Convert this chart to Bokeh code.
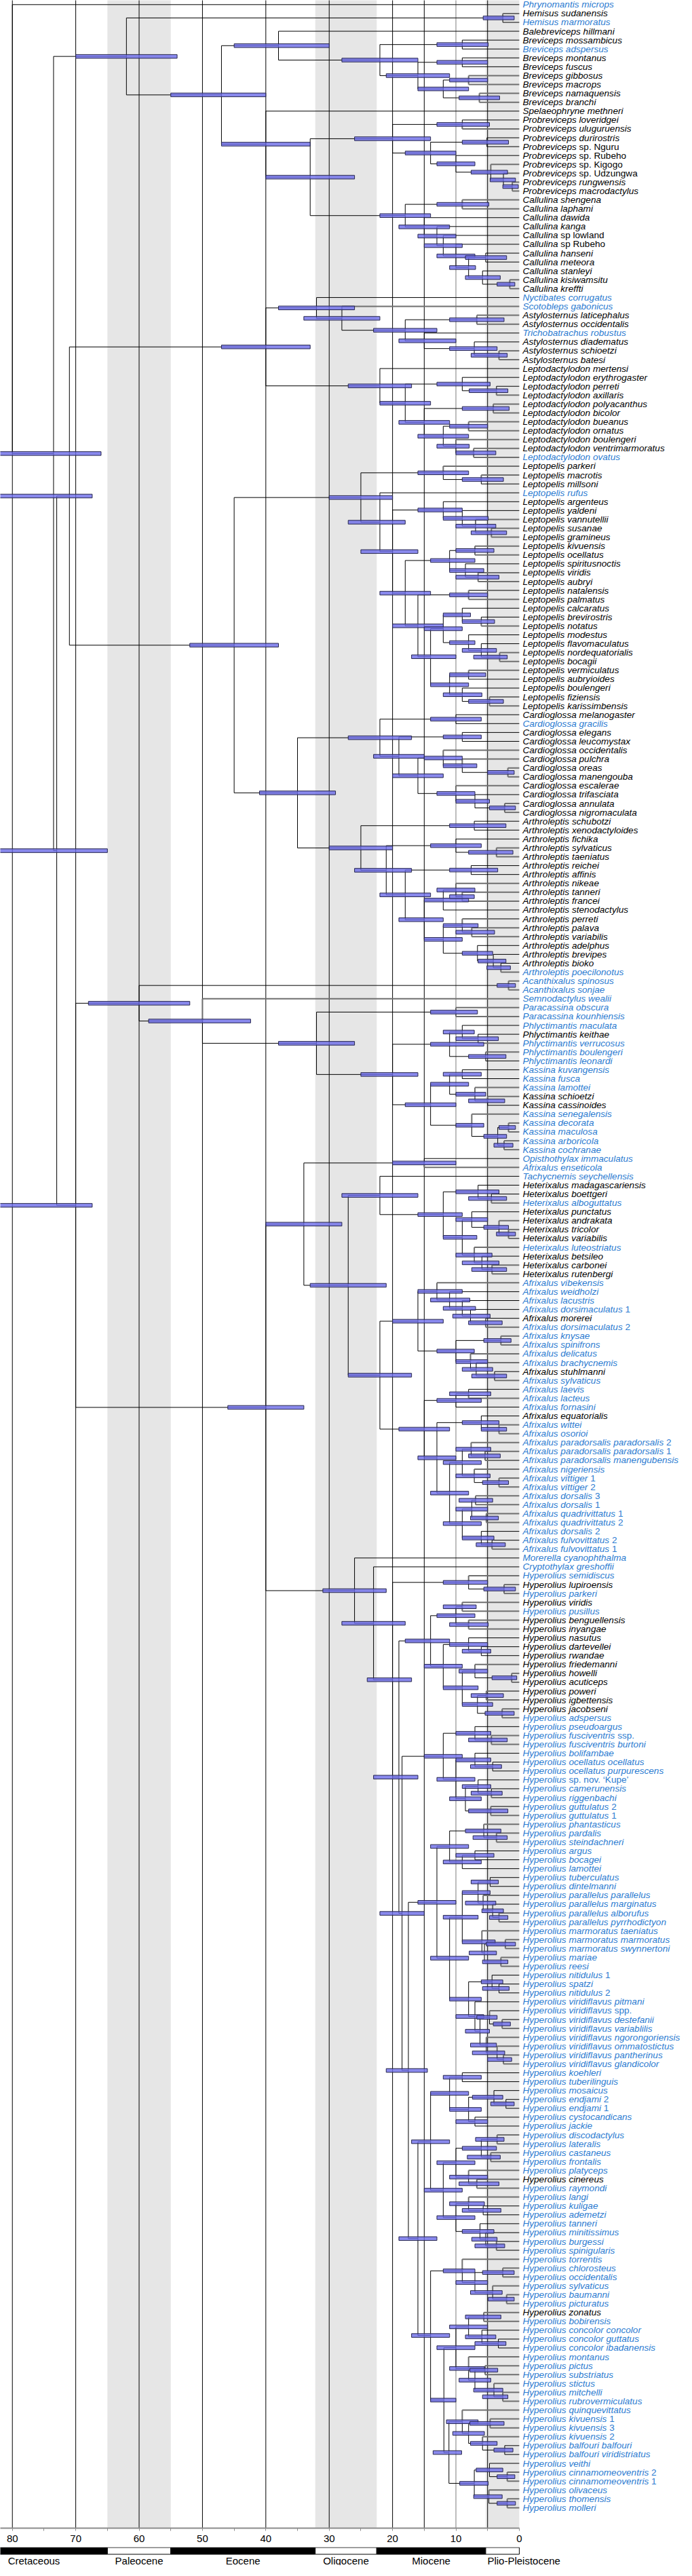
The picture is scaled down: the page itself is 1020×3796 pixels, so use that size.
from bokeh.plotting import figure
from bokeh.layouts import column
from bokeh.models import Range1d, LinearAxis, FixedTicker, ColumnDataSource
from bokeh.core.properties import value
from bokeh.embed import file_html
from bokeh.resources import INLINE

# ---------------- tip taxa (top to bottom) ----------------
taxa = [
    "Phrynomantis microps", "Hemisus sudanensis", "Hemisus marmoratus", "Balebreviceps hillmani",
    "Breviceps mossambicus", "Breviceps adspersus", "Breviceps montanus", "Breviceps fuscus",
    "Breviceps gibbosus", "Breviceps macrops", "Breviceps namaquensis", "Breviceps branchi",
    "Spelaeophryne methneri", "Probreviceps loveridgei", "Probreviceps uluguruensis",
    "Probreviceps durirostris", "Probreviceps sp. Nguru", "Probreviceps sp. Rubeho",
    "Probreviceps sp. Kigogo", "Probreviceps sp. Udzungwa", "Probreviceps rungwensis",
    "Probreviceps macrodactylus", "Callulina shengena", "Callulina laphami", "Callulina dawida",
    "Callulina kanga", "Callulina sp lowland", "Callulina sp Rubeho", "Callulina hanseni",
    "Callulina meteora", "Callulina stanleyi", "Callulina kisiwamsitu", "Callulina kreffti",
    "Nyctibates corrugatus", "Scotobleps gabonicus", "Astylosternus laticephalus",
    "Astylosternus occidentalis", "Trichobatrachus robustus", "Astylosternus diadematus",
    "Astylosternus schioetzi", "Astylosternus batesi", "Leptodactylodon mertensi",
    "Leptodactylodon erythrogaster", "Leptodactylodon perreti", "Leptodactylodon axillaris",
    "Leptodactylodon polyacanthus", "Leptodactylodon bicolor", "Leptodactylodon bueanus",
    "Leptodactylodon ornatus", "Leptodactylodon boulengeri", "Leptodactylodon ventrimarmoratus",
    "Leptodactylodon ovatus", "Leptopelis parkeri", "Leptopelis macrotis", "Leptopelis millsoni",
    "Leptopelis rufus", "Leptopelis argenteus", "Leptopelis yaldeni", "Leptopelis vannutellii",
    "Leptopelis susanae", "Leptopelis gramineus", "Leptopelis kivuensis", "Leptopelis ocellatus",
    "Leptopelis spiritusnoctis", "Leptopelis viridis", "Leptopelis aubryi", "Leptopelis natalensis",
    "Leptopelis palmatus", "Leptopelis calcaratus", "Leptopelis brevirostris", "Leptopelis notatus",
    "Leptopelis modestus", "Leptopelis flavomaculatus", "Leptopelis nordequatorialis",
    "Leptopelis bocagii", "Leptopelis vermiculatus", "Leptopelis aubryioides", "Leptopelis boulengeri",
    "Leptopelis fiziensis", "Leptopelis karissimbensis", "Cardioglossa melanogaster",
    "Cardioglossa gracilis", "Cardioglossa elegans", "Cardioglossa leucomystax",
    "Cardioglossa occidentalis", "Cardioglossa pulchra", "Cardioglossa oreas",
    "Cardioglossa manengouba", "Cardioglossa escalerae", "Cardioglossa trifasciata",
    "Cardioglossa annulata", "Cardioglossa nigromaculata", "Arthroleptis schubotzi",
    "Arthroleptis xenodactyloides", "Arthroleptis fichika", "Arthroleptis sylvaticus",
    "Arthroleptis taeniatus", "Arthroleptis reichei", "Arthroleptis affinis", "Arthroleptis nikeae",
    "Arthroleptis tanneri", "Arthroleptis francei", "Arthroleptis stenodactylus",
    "Arthroleptis perreti", "Arthroleptis palava", "Arthroleptis variabilis", "Arthroleptis adelphus",
    "Arthroleptis brevipes", "Arthroleptis bioko", "Arthroleptis poecilonotus",
    "Acanthixalus spinosus", "Acanthixalus sonjae", "Semnodactylus wealii", "Paracassina obscura",
    "Paracassina kounhiensis", "Phlyctimantis maculata", "Phlyctimantis keithae",
    "Phlyctimantis verrucosus", "Phlyctimantis boulengeri", "Phlyctimantis leonardi",
    "Kassina kuvangensis", "Kassina fusca", "Kassina lamottei", "Kassina schioetzi",
    "Kassina cassinoides", "Kassina senegalensis", "Kassina decorata", "Kassina maculosa",
    "Kassina arboricola", "Kassina cochranae", "Opisthothylax immaculatus", "Afrixalus enseticola",
    "Tachycnemis seychellensis", "Heterixalus madagascariensis", "Heterixalus boettgeri",
    "Heterixalus alboguttatus", "Heterixalus punctatus", "Heterixalus andrakata",
    "Heterixalus tricolor", "Heterixalus variabilis", "Heterixalus luteostriatus",
    "Heterixalus betsileo", "Heterixalus carbonei", "Heterixalus rutenbergi", "Afrixalus vibekensis",
    "Afrixalus weidholzi", "Afrixalus lacustris", "Afrixalus dorsimaculatus 1", "Afrixalus morerei",
    "Afrixalus dorsimaculatus 2", "Afrixalus knysae", "Afrixalus spinifrons", "Afrixalus delicatus",
    "Afrixalus brachycnemis", "Afrixalus stuhlmanni", "Afrixalus sylvaticus", "Afrixalus laevis",
    "Afrixalus lacteus", "Afrixalus fornasini", "Afrixalus equatorialis", "Afrixalus wittei",
    "Afrixalus osorioi", "Afrixalus paradorsalis paradorsalis 2",
    "Afrixalus paradorsalis paradorsalis 1", "Afrixalus paradorsalis manengubensis",
    "Afrixalus nigeriensis", "Afrixalus vittiger 1", "Afrixalus vittiger 2", "Afrixalus dorsalis 3",
    "Afrixalus dorsalis 1", "Afrixalus quadrivittatus 1", "Afrixalus quadrivittatus 2",
    "Afrixalus dorsalis 2", "Afrixalus fulvovittatus 2", "Afrixalus fulvovittatus 1",
    "Morerella cyanophthalma", "Cryptothylax greshoffii", "Hyperolius semidiscus",
    "Hyperolius lupiroensis", "Hyperolius parkeri", "Hyperolius viridis", "Hyperolius pusillus",
    "Hyperolius benguellensis", "Hyperolius inyangae", "Hyperolius nasutus", "Hyperolius dartevellei",
    "Hyperolius rwandae", "Hyperolius friedemanni", "Hyperolius howelli", "Hyperolius acuticeps",
    "Hyperolius poweri", "Hyperolius igbettensis", "Hyperolius jacobseni", "Hyperolius adspersus",
    "Hyperolius pseudoargus", "Hyperolius fusciventris ssp.", "Hyperolius fusciventris burtoni",
    "Hyperolius bolifambae", "Hyperolius ocellatus ocellatus", "Hyperolius ocellatus purpurescens",
    "Hyperolius sp. nov. \u2018Kupe\u2019", "Hyperolius camerunensis", "Hyperolius riggenbachi",
    "Hyperolius guttulatus 2", "Hyperolius guttulatus 1", "Hyperolius phantasticus",
    "Hyperolius pardalis", "Hyperolius steindachneri", "Hyperolius argus", "Hyperolius bocagei",
    "Hyperolius lamottei", "Hyperolius tuberculatus", "Hyperolius dintelmanni",
    "Hyperolius parallelus parallelus", "Hyperolius parallelus marginatus",
    "Hyperolius parallelus alborufus", "Hyperolius parallelus pyrrhodictyon",
    "Hyperolius marmoratus taeniatus", "Hyperolius marmoratus marmoratus",
    "Hyperolius marmoratus swynnertoni", "Hyperolius mariae", "Hyperolius reesi",
    "Hyperolius nitidulus 1", "Hyperolius spatzi", "Hyperolius nitidulus 2",
    "Hyperolius viridiflavus pitmani", "Hyperolius viridiflavus spp.",
    "Hyperolius viridiflavus destefanii", "Hyperolius viridiflavus variablilis",
    "Hyperolius viridiflavus ngorongoriensis", "Hyperolius viridiflavus ommatostictus",
    "Hyperolius viridiflavus pantherinus", "Hyperolius viridiflavus glandicolor",
    "Hyperolius koehleri", "Hyperolius tuberilinguis", "Hyperolius mosaicus", "Hyperolius endjami 2",
    "Hyperolius endjami 1", "Hyperolius cystocandicans", "Hyperolius jackie",
    "Hyperolius discodactylus", "Hyperolius lateralis", "Hyperolius castaneus", "Hyperolius frontalis",
    "Hyperolius platyceps", "Hyperolius cinereus", "Hyperolius raymondi", "Hyperolius langi",
    "Hyperolius kuligae", "Hyperolius ademetzi", "Hyperolius tanneri", "Hyperolius minitissimus",
    "Hyperolius burgessi", "Hyperolius spinigularis", "Hyperolius torrentis", "Hyperolius chlorosteus",
    "Hyperolius occidentalis", "Hyperolius sylvaticus", "Hyperolius baumanni", "Hyperolius picturatus",
    "Hyperolius zonatus", "Hyperolius bobirensis", "Hyperolius concolor concolor",
    "Hyperolius concolor guttatus", "Hyperolius concolor ibadanensis", "Hyperolius montanus",
    "Hyperolius pictus", "Hyperolius substriatus", "Hyperolius stictus", "Hyperolius mitchelli",
    "Hyperolius rubrovermiculatus", "Hyperolius quinquevittatus", "Hyperolius kivuensis 1",
    "Hyperolius kivuensis 3", "Hyperolius kivuensis 2", "Hyperolius balfouri balfouri",
    "Hyperolius balfouri viridistriatus", "Hyperolius veithi", "Hyperolius cinnamomeoventris 2",
    "Hyperolius cinnamomeoventris 1", "Hyperolius olivaceus", "Hyperolius thomensis",
    "Hyperolius molleri",
]

# label colour class per tip (B = blue label, k = black label), 10 per chunk
label_class = "".join([
    "BkBkkBkkkk", "kkkkkkkkkk", "kkkkkkkkkk", "kkkBBkkBkk", "kkkkkkkkkk",
    "kBkkkBkkkk", "kkkkkkkkkk", "kkkkkkkkkk", "kBkkkkkkkk", "kkkkkkkkkk",
    "kkkkkkkkkB", "BBBBBBkBBB", "BBBkkBBBBB", "BBBkkBkkkk", "BkkkBBBBkB",
    "BBBBkBBBBk", "BBBBBBBBBB", "BBBBBBBBkB", "kBkkkkkkkk", "kkkBBBBBBB",
    "BBBBBBBBBB", "BBBBBBBBBB", "BBBBBBBBBB", "BBBBBBBBBB", "BBBBBkBBBB",
    "BBBBBBBBBB", "kBBBBBBBBB", "BBBBBBBBBB", "BBB",
])

# terminal branch class per tip (G = grey branch, k = black branch)
branch_class = "".join([
    "kGkkkkkkGG", "GGkkGkkkGG", "GGGGkkkkkk", "kGGkGGGkkG", "GkkkGGGGGG",
    "GGGGkkkkGG", "GGGkGGGGkk", "GkkGGGkkGG", "kkkkGGGGGk", "GGkkkGGkkG",
    "GGkGGGkkkG", "GGGGGkkGGk", "kkGGkGGGGG", "kGkkkGkGGG", "GkGGGkkkkG",
    "GGGGkGkGkk", "GGGGGGGGGG", "GGkkGkkGGG", "GGGGkkkGGG", "GGGGkGGkkk",
    "kkGGGGGGkk", "kkkGGGGGGG", "GGkkkkGGGG", "GGGkkkkkkk", "GGGGGGGGkk",
    "kGGGGGGGGG", "GGkkkGGGGG", "GGGGGkkkGG", "GGG",
])

# ---------------- clades: (first tip, last tip, age Ma, 95% HPD old, 95% HPD young) ----------------
clades_top = [
    (0, 282, 80.0, None, None),
    (1, 282, 73.5, 82.8, 66.0),
    (1, 32, 62.0, 70.0, 54.0),
    (1, 2, 2.6, 5.7, 0.8),
]
clades_brevicipitidae = [
    (3, 32, 47.0, 55.0, 40.0), (3, 11, 38.0, 45.0, 30.0), (4, 11, 22.0, 28.0, 16.0),
    (4, 5, 9.0, 13.0, 4.9), (6, 11, 16.0, 21.0, 11.0), (6, 7, 9.0, 13.0, 5.0),
    (8, 11, 12.0, 16.0, 8.0), (8, 9, 8.0, 11.0, 5.0), (10, 11, 6.3, 9.5, 3.1),
    (12, 32, 40.0, 47.0, 33.0), (13, 32, 33.0, 40.0, 26.0), (13, 21, 20.0, 26.0, 14.0),
    (13, 14, 9.0, 13.0, 4.7), (15, 21, 14.0, 18.0, 10.0), (15, 16, 5.1, 9.0, 1.7),
    (17, 21, 10.0, 13.0, 7.0), (18, 21, 4.5, 7.6, 1.85), (19, 21, 2.5, 4.6, 0.6),
    (20, 21, 1.1, 2.6, 0.15), (22, 32, 18.0, 22.0, 14.0), (22, 23, 9.0, 13.0, 4.8),
    (24, 32, 15.0, 19.0, 11.0), (25, 32, 13.0, 16.0, 10.0), (26, 32, 12.0, 15.0, 9.0),
    (27, 32, 10.0, 13.0, 7.0), (28, 32, 8.0, 11.0, 6.9), (28, 29, 5.3, 8.5, 2.0),
    (30, 32, 5.8, 8.5, 3.0), (31, 32, 1.5, 3.5, 0.7),
]
clades_arthroleptidae = [
    (33, 282, 73.0, 82.0, 65.0), (33, 109, 71.0, 82.8, 67.4), (33, 51, 40.0, 47.0, 33.0),
    (33, 40, 32.0, 38.0, 26.0), (34, 40, 28.0, 34.0, 22.0), (35, 40, 18.0, 23.0, 13.0),
    (35, 36, 6.7, 11.0, 2.4), (37, 40, 15.0, 19.0, 10.0), (38, 40, 7.1, 11.0, 3.5),
    (39, 40, 3.2, 7.6, 1.9), (41, 51, 22.0, 27.0, 17.0), (42, 51, 18.0, 22.0, 14.0),
    (42, 44, 9.0, 13.0, 4.6), (43, 44, 3.6, 7.9, 1.8), (45, 51, 15.0, 19.0, 11.0),
    (45, 46, 4.1, 9.0, 1.6), (47, 51, 12.0, 16.0, 8.0), (47, 48, 8.0, 11.0, 5.0),
    (49, 51, 10.0, 13.0, 7.9), (50, 51, 7.2, 10.0, 3.7),
    (52, 109, 45.0, 52.0, 38.0), (52, 79, 25.0, 30.0, 20.0), (52, 54, 12.0, 16.0, 8.0),
    (53, 54, 6.0, 9.0, 2.5), (55, 79, 22.0, 27.0, 18.0), (56, 79, 20.0, 25.0, 16.0),
    (56, 60, 12.0, 16.0, 9.0), (57, 60, 9.0, 12.0, 4.9), (58, 60, 6.9, 10.0, 3.7),
    (59, 60, 4.4, 7.6, 2.0), (61, 79, 18.0, 22.0, 14.0), (61, 65, 11.0, 14.0, 7.0),
    (61, 62, 7.0, 10.0, 4.0), (63, 65, 8.5, 11.0, 5.6), (64, 65, 6.5, 10.0, 3.2),
    (66, 79, 16.0, 20.0, 12.0), (66, 67, 8.0, 11.0, 5.0), (68, 79, 14.0, 17.0, 10.0),
    (68, 74, 12.0, 15.0, 9.0), (68, 70, 9.0, 12.0, 7.7), (69, 70, 6.0, 9.0, 3.9),
    (71, 74, 8.0, 11.0, 7.0), (72, 74, 6.0, 9.0, 3.6), (73, 74, 3.1, 7.2, 1.9),
    (75, 79, 11.0, 14.0, 8.0), (75, 76, 8.0, 11.0, 5.3), (77, 79, 9.0, 12.0, 5.9),
    (78, 79, 4.7, 8.0, 2.5),
    (80, 109, 35.0, 41.0, 29.0), (80, 91, 22.0, 27.0, 17.0), (80, 81, 10.0, 14.0, 6.0),
    (82, 91, 19.0, 23.0, 15.0), (82, 83, 9.0, 12.0, 6.0), (84, 91, 16.0, 20.0, 12.0),
    (84, 87, 12.0, 15.0, 9.0), (85, 87, 9.0, 12.0, 6.7), (86, 87, 1.8, 5.0, 0.8),
    (88, 91, 10.0, 13.0, 7.0), (89, 91, 7.0, 10.0, 4.7), (90, 91, 2.3, 4.7, 0.6),
    (92, 109, 25.0, 30.0, 20.0), (92, 93, 7.1, 11.0, 2.1), (94, 109, 21.0, 26.0, 17.0),
    (94, 96, 10.0, 14.0, 6.0), (95, 96, 3.6, 8.0, 1.0), (97, 109, 18.0, 22.0, 14.0),
    (97, 98, 7.6, 11.0, 3.4), (99, 109, 15.0, 19.0, 12.0), (99, 102, 12.0, 15.0, 8.0),
    (99, 101, 10.0, 13.0, 7.0), (100, 101, 9.0, 11.0, 7.1), (103, 109, 12.0, 15.0, 9.0),
    (103, 105, 9.0, 12.0, 6.5), (104, 105, 7.5, 10.0, 3.9), (106, 109, 6.6, 9.0, 4.2),
    (107, 109, 4.1, 6.5, 2.1), (108, 109, 2.9, 5.1, 1.4),
]
clades_kassininae = [
    (110, 282, 70.0, 82.3, 67.4), (110, 129, 60.0, 68.0, 52.0), (110, 111, 1.7, 3.5, 0.6),
    (112, 129, 50.0, 58.5, 42.4), (113, 129, 32.0, 38.0, 26.0), (113, 114, 10.0, 14.0, 6.6),
    (115, 129, 20.0, 25.0, 16.0), (115, 119, 11.0, 14.0, 5.6), (115, 117, 9.0, 12.0, 7.1),
    (116, 117, 6.5, 10.0, 3.3), (118, 119, 5.3, 8.0, 2.1), (120, 129, 14.0, 18.0, 10.0),
    (120, 124, 11.0, 14.0, 8.0), (120, 121, 9.0, 12.0, 6.0), (122, 124, 7.0, 10.0, 5.3),
    (123, 124, 5.0, 8.0, 2.3), (125, 129, 7.5, 10.0, 5.6), (126, 129, 3.4, 5.6, 2.0),
    (126, 127, 1.7, 3.2, 0.6), (128, 129, 2.4, 4.0, 1.0),
]
clades_hyperoliinae = [
    (130, 282, 40.0, 46.0, 34.0), (130, 174, 34.0, 40.0, 28.0), (130, 131, 15.0, 20.0, 10.0),
    (132, 174, 27.0, 33.0, 21.0), (132, 143, 22.0, 28.0, 16.0), (133, 143, 12.0, 16.0, 9.0),
    (133, 135, 6.5, 10.0, 3.2), (134, 135, 4.4, 8.0, 2.0), (136, 143, 9.0, 12.0, 6.7),
    (136, 139, 7.5, 10.0, 5.0), (137, 139, 3.2, 5.6, 1.7), (138, 139, 1.7, 3.6, 0.6),
    (140, 143, 7.1, 10.0, 4.3), (141, 143, 5.9, 9.0, 3.2), (142, 143, 4.3, 7.5, 2.0),
    (144, 174, 22.0, 27.0, 17.0), (144, 155, 16.0, 20.0, 12.0), (144, 149, 13.0, 16.0, 9.0),
    (145, 149, 11.0, 14.0, 7.8), (146, 149, 9.0, 12.0, 6.9), (147, 149, 7.7, 10.5, 4.6),
    (148, 149, 5.3, 8.0, 2.7), (150, 155, 10.0, 13.0, 7.1), (150, 151, 2.9, 5.6, 1.3),
    (152, 155, 7.7, 10.0, 5.0), (153, 155, 6.8, 9.0, 4.2), (154, 155, 3.9, 7.5, 2.0),
    (156, 174, 15.0, 19.0, 11.0), (156, 158, 10.0, 13.0, 6.0), (156, 157, 8.0, 11.0, 4.5),
    (159, 174, 13.0, 16.0, 10.0), (159, 161, 6.0, 9.0, 3.2), (160, 161, 3.2, 6.0, 2.0),
    (162, 174, 11.0, 14.0, 8.0), (162, 167, 9.0, 12.0, 6.0), (162, 164, 7.6, 10.0, 4.5),
    (163, 164, 5.4, 8.0, 3.0), (165, 167, 7.1, 10.0, 4.6), (166, 167, 3.2, 5.8, 1.7),
    (168, 174, 9.0, 12.0, 6.0), (168, 171, 7.5, 10.0, 5.0), (168, 169, 6.9, 9.5, 4.2),
    (170, 171, 5.2, 7.7, 3.3), (172, 174, 6.0, 9.0, 4.0), (173, 174, 4.3, 6.8, 2.2),
    (175, 282, 26.0, 31.0, 21.0), (176, 282, 23.0, 28.0, 18.0),
]
clades_hyperolius = [
    (177, 282, 20.0, 24.0, 17.0), (177, 179, 8.0, 12.0, 5.0), (178, 179, 2.4, 5.6, 0.6),
    (180, 282, 19.0, 23.0, 16.0), (180, 193, 14.0, 18.0, 11.0), (180, 183, 10.0, 13.0, 7.0),
    (180, 181, 9.0, 12.0, 6.8), (182, 183, 8.0, 11.0, 4.9), (184, 193, 12.0, 15.0, 9.0),
    (184, 186, 8.0, 11.0, 5.0), (185, 186, 6.0, 9.0, 4.5), (187, 193, 9.0, 12.0, 6.5),
    (187, 189, 7.0, 9.5, 5.0), (188, 189, 1.2, 4.3, 0.4), (190, 193, 6.6, 9.0, 4.2),
    (190, 191, 5.2, 7.6, 2.5), (192, 193, 2.7, 5.4, 0.8),
    (194, 282, 18.5, 22.0, 15.0), (194, 204, 12.0, 15.0, 9.0), (194, 196, 7.0, 10.0, 4.5),
    (195, 196, 4.4, 8.0, 1.9), (197, 204, 10.0, 13.0, 7.0), (197, 199, 7.0, 10.0, 4.5),
    (198, 199, 4.2, 7.7, 2.8), (200, 204, 8.5, 11.0, 6.0), (200, 202, 6.5, 9.0, 4.5),
    (201, 202, 4.4, 7.6, 2.7), (203, 204, 4.5, 8.0, 1.8),
    (205, 282, 17.5, 21.0, 14.5), (205, 232, 13.0, 16.0, 10.0), (205, 210, 11.0, 14.0, 8.0),
    (205, 207, 5.6, 8.5, 2.9), (206, 207, 3.6, 7.3, 1.9), (208, 210, 9.0, 12.0, 6.0),
    (208, 209, 7.0, 10.0, 4.0), (211, 232, 11.0, 14.0, 8.0), (211, 221, 9.0, 12.0, 6.5),
    (211, 216, 6.5, 9.0, 4.6), (211, 212, 4.6, 7.6, 3.3), (213, 216, 5.7, 8.5, 3.7),
    (214, 216, 4.2, 5.9, 2.5), (215, 216, 3.2, 4.7, 1.8), (217, 221, 5.9, 9.0, 3.8),
    (218, 221, 5.5, 7.9, 3.6), (218, 219, 2.2, 5.2, 0.6), (220, 221, 2.9, 5.8, 1.8),
    (222, 232, 8.0, 11.0, 6.0), (222, 224, 4.3, 6.0, 2.6), (223, 224, 3.2, 5.8, 1.6),
    (225, 232, 7.0, 10.0, 5.6), (226, 232, 6.2, 8.5, 4.7), (226, 228, 4.7, 6.7, 3.5),
    (227, 228, 2.7, 4.1, 1.4), (229, 232, 5.2, 7.7, 3.6), (230, 232, 3.5, 7.4, 2.3),
    (231, 232, 2.5, 5.0, 1.2),
    (233, 282, 16.0, 19.0, 13.0), (233, 253, 14.0, 17.0, 11.0), (233, 239, 11.0, 14.0, 8.0),
    (233, 234, 9.0, 12.0, 6.0), (235, 239, 8.0, 11.0, 6.0), (235, 237, 4.0, 7.4, 2.6),
    (236, 237, 2.1, 4.5, 0.8), (238, 239, 7.0, 10.0, 5.0), (240, 253, 12.0, 15.0, 9.0),
    (240, 246, 10.0, 13.0, 7.0), (240, 243, 6.0, 9.0, 3.6), (240, 241, 3.5, 6.9, 2.4),
    (242, 243, 4.5, 8.2, 3.0), (244, 246, 8.0, 11.0, 5.0), (245, 246, 6.7, 9.5, 3.2),
    (247, 253, 10.0, 13.0, 7.0), (247, 249, 8.0, 11.0, 5.5), (248, 249, 5.7, 9.0, 2.9),
    (250, 253, 6.2, 9.0, 4.0), (251, 253, 5.3, 7.5, 3.5), (252, 253, 3.6, 7.0, 2.3),
    (254, 282, 14.0, 17.0, 11.0), (254, 259, 9.0, 12.0, 7.0), (255, 259, 7.0, 10.0, 5.0),
    (255, 256, 2.6, 5.8, 0.8), (257, 259, 4.2, 7.7, 2.7), (258, 259, 2.0, 4.9, 0.8),
    (260, 282, 11.9, 14.0, 10.0), (260, 270, 10.0, 13.0, 7.0), (260, 264, 8.0, 11.0, 5.0),
    (260, 261, 5.6, 8.5, 2.9), (262, 264, 5.9, 8.5, 3.7), (263, 264, 3.3, 7.0, 2.1),
    (265, 270, 8.0, 11.0, 5.5), (266, 270, 7.0, 9.5, 4.5), (266, 267, 5.4, 7.8, 3.4),
    (268, 270, 4.0, 7.2, 2.6), (269, 270, 2.6, 5.8, 1.8), (271, 282, 11.1, 13.6, 9.1),
    (271, 276, 9.0, 11.5, 6.5), (272, 276, 8.0, 10.5, 5.5), (272, 273, 4.6, 7.8, 2.4),
    (274, 276, 5.8, 7.7, 3.5), (275, 276, 2.3, 4.0, 1.0), (277, 282, 7.1, 9.4, 4.9),
    (277, 279, 4.7, 6.8, 2.6), (278, 279, 1.9, 3.5, 0.7), (280, 282, 4.8, 7.2, 2.7),
    (281, 282, 1.9, 3.5, 0.6),
]

# ---------------- time scale ----------------
tick_ages = [0, 10, 20, 30, 40, 50, 60, 70, 80]
minor_tick_ages = [5, 15, 25, 35, 45, 55, 65, 75]
grid_ages = [80, 70, 60, 50, 40, 30, 20, 15, 10, 5]
epoch_names = ["Cretaceous", "Paleocene", "Eocene", "Oligocene", "Miocene", "Plio-Pleistocene"]
epoch_old = [88.2, 65.0, 55.0, 32.2, 22.5, 5.3]
epoch_young = [65.0, 55.0, 32.2, 22.5, 5.3, 0.0]
shaded_epochs = ["Paleocene", "Oligocene", "Plio-Pleistocene"]

# ---------------- layout constants ----------------
AGE_LEFT, AGE_RIGHT = 81.9, -25.6
ROW_TOP, ROW_BOTTOM = -0.4817, 284.30
FRAME_H = 3725
AXIS_H = 28
FONT = "Liberation Sans"
BLUE = "#2b7bd1"
GREY = "#6f6f6f"
FS = 13.6

# Helvetica/Arial advance widths (per 1000 em) for placing upright suffixes
_w = {' ': 278}
for ch, wv in zip("abcdefghijklmnopqrstuvwxyz",
                  [556, 556, 500, 556, 556, 278, 556, 556, 222, 222, 500, 222, 833, 556, 556, 556,
                   556, 333, 500, 278, 556, 500, 722, 500, 500, 500]):
    _w[ch] = wv
for ch, wv in zip("ABCDEFGHIJKLMNOPQRSTUVWXYZ",
                  [667, 667, 722, 722, 667, 611, 778, 722, 278, 500, 667, 556, 833, 722, 778, 667,
                   778, 722, 667, 611, 722, 667, 944, 667, 667, 611]):
    _w[ch] = wv


def text_width(s, size):
    return sum(_w.get(c, 556) for c in s) * size / 1000.0


def split_label(name):
    toks = name.split(" ")
    stop = {"sp.", "sp", "ssp.", "spp."}
    ital = [toks[0]]
    rest = []
    for k, t in enumerate(toks[1:]):
        if t in stop or t.isdigit():
            rest = toks[1 + k:]
            break
        ital.append(t)
    return " ".join(ital), " ".join(rest)


# ---------------- tree geometry ----------------
clades = (clades_top + clades_brevicipitidae + clades_arthroleptidae + clades_kassininae
          + clades_hyperoliinae + clades_hyperolius)
span_index = {(c[0], c[1]): k for k, c in enumerate(clades)}


def kids(k):
    f, l = clades[k][0], clades[k][1]
    out = []
    p = f
    while p <= l:
        found = None
        top = l - 1 if p == f else l
        for e in range(top, p, -1):
            if (p, e) in span_index:
                found = e
                break
        if found is None:
            out.append(("leaf", p))
            p += 1
        else:
            out.append(("clade", span_index[(p, found)]))
            p = found + 1
    return out


order = sorted(range(len(clades)), key=lambda k: clades[k][1] - clades[k][0])
node_y = {}
children = {}
for k in order:
    ch = kids(k)
    children[k] = ch
    ys = [c[1] if c[0] == "leaf" else node_y[c[1]] for c in ch]
    node_y[k] = (ys[0] + ys[-1]) / 2.0

seg = dict(x0=[], y0=[], x1=[], y1=[], color=[], width=[])
for k in order:
    age = clades[k][2]
    py = node_y[k]
    for c in children[k]:
        if c[0] == "leaf":
            cy, cage = c[1], 0.0
            grey = branch_class[c[1]] == "G"
        else:
            cy, cage = node_y[c[1]], clades[c[1]][2]
            grey = False
        col = GREY if grey else "black"
        wd = 2.0 if grey else 1.0
        seg["x0"].append(age); seg["x1"].append(cage)
        seg["y0"].append(cy); seg["y1"].append(cy)
        seg["color"].append(col); seg["width"].append(wd)
        seg["x0"].append(age); seg["x1"].append(age)
        seg["y0"].append(py); seg["y1"].append(cy)
        seg["color"].append(col); seg["width"].append(wd)

bars = dict(left=[], right=[], top=[], bottom=[])
for k, c in enumerate(clades):
    if c[3] is None:
        continue
    bars["left"].append(c[3]); bars["right"].append(c[4])
    bars["top"].append(node_y[k] - 0.21); bars["bottom"].append(node_y[k] + 0.21)

# ---------------- main figure ----------------
p = figure(width=1004, height=FRAME_H + AXIS_H,
           x_range=Range1d(AGE_LEFT, AGE_RIGHT), y_range=Range1d(ROW_BOTTOM, ROW_TOP),
           output_backend="svg", toolbar_location=None,
           x_axis_location=None, y_axis_location=None,
           min_border_left=0, min_border_right=0, min_border_top=0, min_border_bottom=AXIS_H)
p.grid.visible = False
p.outline_line_color = None
p.background_fill_color = "white"
p.border_fill_color = "white"

for nm, a0, a1 in zip(epoch_names, epoch_old, epoch_young):
    if nm in shaded_epochs:
        p.quad(left=a0, right=a1, top=-5, bottom=300, fill_color="#e6e6e6", line_color=None)

p.segment(x0=grid_ages, y0=[-5] * len(grid_ages), x1=grid_ages, y1=[300] * len(grid_ages),
          line_color=["#7a7a7a" if g == 10 else "black" for g in grid_ages], line_width=1)

p.segment(x0="x0", y0="y0", x1="x1", y1="y1", line_color="color", line_width="width",
          source=ColumnDataSource(seg))

p.quad(left="left", right="right", top="top", bottom="bottom", source=ColumnDataSource(bars),
       fill_color="#6b6be8", fill_alpha=0.8, line_color="#26264d", line_width=1)

lab = dict(x=[], y=[], text=[], color=[], off=[])
suf = dict(x=[], y=[], text=[], color=[], off=[])
for i, name in enumerate(taxa):
    it, rest = split_label(name)
    col = BLUE if label_class[i] == "B" else "black"
    lab["x"].append(0); lab["y"].append(i); lab["text"].append(it)
    lab["color"].append(col); lab["off"].append(5)
    if rest:
        suf["x"].append(0); suf["y"].append(i); suf["text"].append(rest)
        suf["color"].append(col); suf["off"].append(5 + text_width(it + " ", FS))

p.text(x="x", y="y", text="text", text_color="color", x_offset="off",
       source=ColumnDataSource(lab), text_font=value(FONT), text_font_style="italic",
       text_font_size=f"{FS}px", text_baseline="middle", text_align="left")
p.text(x="x", y="y", text="text", text_color="color", x_offset="off",
       source=ColumnDataSource(suf), text_font=value(FONT), text_font_style="normal",
       text_font_size=f"{FS}px", text_baseline="middle", text_align="left")

xaxis = LinearAxis(ticker=FixedTicker(ticks=tick_ages, minor_ticks=minor_tick_ages),
                   bounds=(0, AGE_LEFT))
xaxis.axis_line_color = "#8c8c8c"
xaxis.axis_line_width = 2
xaxis.major_tick_line_color = "#8c8c8c"
xaxis.minor_tick_line_color = "#8c8c8c"
xaxis.major_tick_in = 0
xaxis.major_tick_out = 4
xaxis.minor_tick_in = 0
xaxis.minor_tick_out = 4
xaxis.major_label_standoff = 6
xaxis.major_label_text_font = FONT
xaxis.major_label_text_font_size = "15px"
xaxis.major_label_text_color = "black"
p.add_layout(xaxis, "below")

# ---------------- epoch bar ----------------
e = figure(width=1004, height=27, x_range=p.x_range, y_range=Range1d(27, 0),
           output_backend="svg", toolbar_location=None,
           x_axis_location=None, y_axis_location=None,
           min_border_left=0, min_border_right=0, min_border_top=0, min_border_bottom=0)
e.grid.visible = False
e.outline_line_color = None
e.quad(left=epoch_old, right=epoch_young, top=[0.5] * 6, bottom=[10.5] * 6,
       fill_color=["black", "white", "black", "white", "black", "white"],
       line_color="black", line_width=1)
lab_x = [(a + b) / 2.0 for a, b in zip(epoch_old, epoch_young)]
lab_x[-1] = epoch_young[-1] + (epoch_old[-1] - epoch_young[-1]) * 0.95
aligns = ["center"] * 5 + ["left"]
e.text(x=lab_x, y=[19.5] * 6, text=epoch_names, text_align=aligns, text_baseline="middle",
       text_font=value(FONT), text_font_size="15px", text_color="black")

layout = column(p, e, spacing=0)
open("out.html", "w").write(file_html(layout, INLINE))
